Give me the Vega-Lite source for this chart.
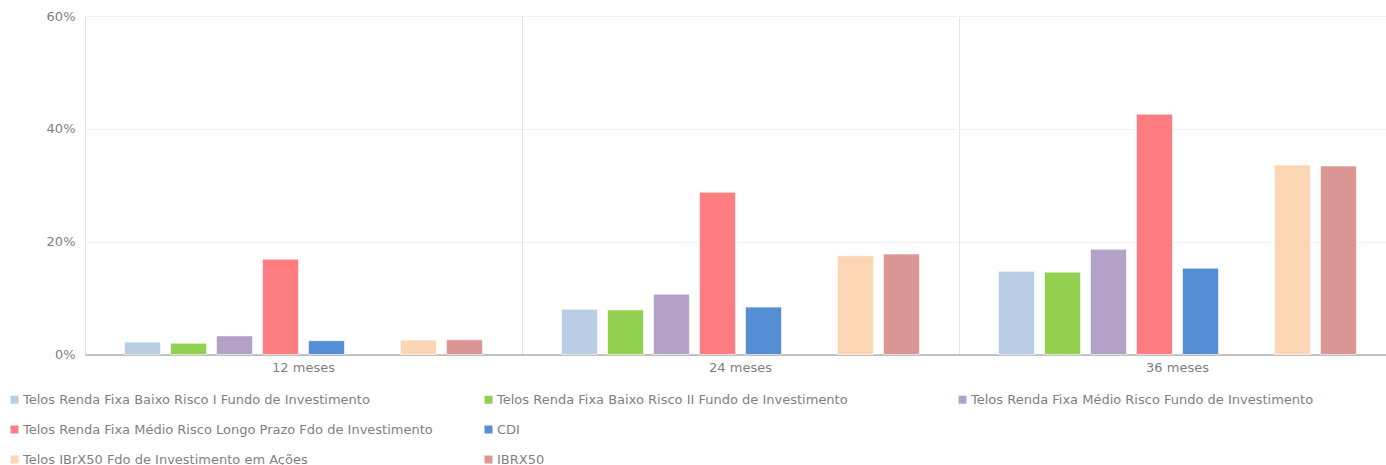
{
  "$schema": "https://vega.github.io/schema/vega-lite/v6.json",
  "autosize": {"type": "none"},
  "padding": {"left": 85, "top": 16, "right": 0, "bottom": 111},
  "width": 1311,
  "height": 338.5,
  "background": "white",
  "config": {
    "font": "DejaVu Sans",
    "view": {"stroke": null}
  },
  "data": {
    "values": [
      {"periodo": "12 meses", "serie": "Telos Renda Fixa Baixo Risco I Fundo de Investimento", "valor": 0.022},
      {"periodo": "12 meses", "serie": "Telos Renda Fixa Baixo Risco II Fundo de Investimento", "valor": 0.020},
      {"periodo": "12 meses", "serie": "Telos Renda Fixa Médio Risco Fundo de Investimento", "valor": 0.033},
      {"periodo": "12 meses", "serie": "Telos Renda Fixa Médio Risco Longo Prazo Fdo de Investimento", "valor": 0.169},
      {"periodo": "12 meses", "serie": "CDI", "valor": 0.0245},
      {"periodo": "12 meses", "serie": "Telos IBrX50 Fdo de Investimento em Ações", "valor": 0.0255},
      {"periodo": "12 meses", "serie": "IBRX50", "valor": 0.026},
      {"periodo": "24 meses", "serie": "Telos Renda Fixa Baixo Risco I Fundo de Investimento", "valor": 0.080},
      {"periodo": "24 meses", "serie": "Telos Renda Fixa Baixo Risco II Fundo de Investimento", "valor": 0.079},
      {"periodo": "24 meses", "serie": "Telos Renda Fixa Médio Risco Fundo de Investimento", "valor": 0.107},
      {"periodo": "24 meses", "serie": "Telos Renda Fixa Médio Risco Longo Prazo Fdo de Investimento", "valor": 0.2875},
      {"periodo": "24 meses", "serie": "CDI", "valor": 0.084},
      {"periodo": "24 meses", "serie": "Telos IBrX50 Fdo de Investimento em Ações", "valor": 0.175},
      {"periodo": "24 meses", "serie": "IBRX50", "valor": 0.178},
      {"periodo": "36 meses", "serie": "Telos Renda Fixa Baixo Risco I Fundo de Investimento", "valor": 0.1475},
      {"periodo": "36 meses", "serie": "Telos Renda Fixa Baixo Risco II Fundo de Investimento", "valor": 0.146},
      {"periodo": "36 meses", "serie": "Telos Renda Fixa Médio Risco Fundo de Investimento", "valor": 0.1865},
      {"periodo": "36 meses", "serie": "Telos Renda Fixa Médio Risco Longo Prazo Fdo de Investimento", "valor": 0.426},
      {"periodo": "36 meses", "serie": "CDI", "valor": 0.153},
      {"periodo": "36 meses", "serie": "Telos IBrX50 Fdo de Investimento em Ações", "valor": 0.336},
      {"periodo": "36 meses", "serie": "IBRX50", "valor": 0.334}
    ]
  },
  "mark": {"type": "bar", "stroke": "white", "strokeOpacity": 0.6, "strokeWidth": 1},
  "encoding": {
    "x": {
      "field": "periodo",
      "type": "nominal",
      "sort": ["12 meses", "24 meses", "36 meses"],
      "scale": {"paddingInner": 0, "paddingOuter": 0},
      "axis": {
        "title": null,
        "labelAngle": 0,
        "labelColor": "#7f7f7f",
        "labelFontSize": 13,
        "labelPadding": 7,
        "ticks": false,
        "domainColor": "#8c8c8c",
        "domainWidth": 1.2,
        "grid": true,
        "bandPosition": 0,
        "gridColor": "#e4e4e4",
        "gridWidth": 1
      }
    },
    "xOffset": {
      "field": "serie",
      "type": "nominal",
      "scale": {
        "domain": [
          "Telos Renda Fixa Baixo Risco I Fundo de Investimento",
          "Telos Renda Fixa Baixo Risco II Fundo de Investimento",
          "Telos Renda Fixa Médio Risco Fundo de Investimento",
          "Telos Renda Fixa Médio Risco Longo Prazo Fdo de Investimento",
          "CDI",
          " ",
          "Telos IBrX50 Fdo de Investimento em Ações",
          "IBRX50"
        ],
        "paddingInner": 0.217,
        "paddingOuter": 0.86
      }
    },
    "y": {
      "field": "valor",
      "type": "quantitative",
      "scale": {"domain": [0, 0.6], "nice": false},
      "axis": {
        "title": null,
        "format": ".0%",
        "values": [0, 0.2, 0.4, 0.6],
        "labelColor": "#7f7f7f",
        "labelFontSize": 13,
        "labelPadding": 10,
        "ticks": false,
        "domain": false,
        "gridColor": "#f0f0f0",
        "gridWidth": 1
      }
    },
    "color": {
      "field": "serie",
      "type": "nominal",
      "scale": {
        "domain": [
          "Telos Renda Fixa Baixo Risco I Fundo de Investimento",
          "Telos Renda Fixa Baixo Risco II Fundo de Investimento",
          "Telos Renda Fixa Médio Risco Fundo de Investimento",
          "Telos Renda Fixa Médio Risco Longo Prazo Fdo de Investimento",
          "CDI",
          " ",
          "Telos IBrX50 Fdo de Investimento em Ações",
          "IBRX50"
        ],
        "range": ["#B9CDE5", "#92D050", "#B3A2C7", "#FF7C80", "#558ED5", "#FFFFFF", "#FCD5B5", "#D99694"]
      },
      "legend": {
        "title": null,
        "orient": "none",
        "legendX": -77,
        "legendY": 377,
        "direction": "horizontal",
        "columns": 3,
        "gridAlign": "all",
        "columnPadding": 49,
        "rowPadding": 16,
        "symbolType": "square",
        "symbolSize": 64,
        "symbolStrokeWidth": 0,
        "symbolOffset": 0,
        "labelOffset": 2,
        "labelFontSize": 13,
        "labelColor": "#7f7f7f",
        "labelLimit": 600
      }
    }
  }
}
